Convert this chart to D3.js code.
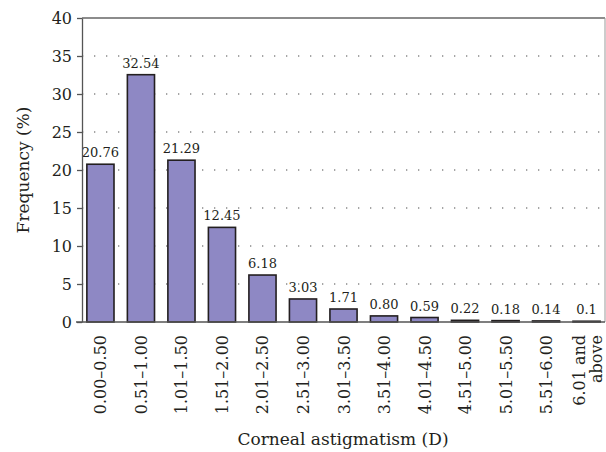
<!DOCTYPE html>
<html>
<head>
<meta charset="utf-8">
<script src="https://cdn.jsdelivr.net/npm/d3@7"></script>
<style>
  body { margin: 0; background: #fff; }
  svg { display: block; font-family: "DejaVu Serif", "Liberation Serif", serif; }
</style>
</head>
<body>
<figure id="bar" style="margin:0"></figure>
<script>
const categories = ['0.00\u20130.50', '0.51\u20131.00', '1.01\u20131.50', '1.51\u20132.00', '2.01\u20132.50',
  '2.51\u20133.00', '3.01\u20133.50', '3.51\u20134.00', '4.01\u20134.50', '4.51\u20135.00',
  '5.01\u20135.50', '5.51\u20136.00', '6.01 and above'];
const values = [20.76, 32.54, 21.29, 12.45, 6.18, 3.03, 1.71, 0.80, 0.59, 0.22, 0.18, 0.14, 0.1];
const valueLabels = ['20.76', '32.54', '21.29', '12.45', '6.18', '3.03', '1.71', '0.80', '0.59', '0.22', '0.18', '0.14', '0.1'];
const yTicks = [0, 5, 10, 15, 20, 25, 30, 35, 40];

const W = 606, H = 452;
const margin = { top: 18, right: 1, bottom: 130, left: 82 };
const width = W - margin.left - margin.right;
const height = H - margin.top - margin.bottom;

const svg = d3.select('figure#bar')
  .append('svg')
  .attr('width', W)
  .attr('height', H);

const g = svg.append('g')
  .attr('transform', 'translate(' + margin.left + ',' + margin.top + ')');

const x = d3.scaleBand()
  .range([0, width])
  .domain(categories)
  .paddingInner(0.33)
  .paddingOuter(0.12);

const y = d3.scaleLinear()
  .domain([0, 40])
  .range([height, 0]);

// dotted grid
g.append('g')
  .selectAll('line')
  .data(yTicks.filter(t => t > 0 && t < 40))
  .enter()
  .append('line')
  .attr('x1', 0)
  .attr('x2', width)
  .attr('y1', d => y(d))
  .attr('y2', d => y(d))
  .attr('stroke', '#888')
  .attr('stroke-width', 1.3)
  .attr('stroke-dasharray', '1.3,10.7');

// frame top / right
g.append('line')
  .attr('x1', 0).attr('x2', width)
  .attr('y1', y(40)).attr('y2', y(40))
  .attr('stroke', '#666').attr('stroke-width', 1.3);
g.append('line')
  .attr('x1', width).attr('x2', width)
  .attr('y1', y(40)).attr('y2', y(0))
  .attr('stroke', '#999').attr('stroke-width', 1);

// bars
g.selectAll('rect.bar')
  .data(values)
  .enter()
  .append('rect')
  .attr('class', 'bar')
  .attr('x', (d, i) => x(categories[i]))
  .attr('y', d => y(d))
  .attr('width', x.bandwidth())
  .attr('height', d => height - y(d))
  .attr('fill', '#8e88c4')
  .attr('stroke', '#231f20')
  .attr('stroke-width', 1.6);

// value labels
g.selectAll('text.val')
  .data(values)
  .enter()
  .append('text')
  .attr('class', 'val')
  .attr('x', (d, i) => x(categories[i]) + x.bandwidth() / 2)
  .attr('y', d => y(d) - 7)
  .attr('text-anchor', 'middle')
  .attr('font-size', 13)
  .attr('fill', '#231f20')
  .text((d, i) => valueLabels[i]);

// y axis
const yAxis = g.append('g')
  .call(d3.axisLeft(y).tickValues(yTicks).tickSize(5).tickSizeOuter(0));
yAxis.select('.domain').attr('stroke', '#555').attr('stroke-width', 1.3);
yAxis.selectAll('.tick line').attr('stroke', '#555').attr('stroke-width', 1.3);
yAxis.selectAll('.tick text')
  .attr('font-family', '"DejaVu Serif", serif')
  .attr('font-size', 16)
  .attr('fill', '#231f20')
  .attr('x', -10);

// x axis
const xAxis = g.append('g')
  .attr('transform', 'translate(0,' + height + ')')
  .call(d3.axisBottom(x).tickSize(0).tickSizeOuter(0));
xAxis.select('.domain').attr('d', 'M-6,0H' + width).attr('stroke', '#555').attr('stroke-width', 1.3);
xAxis.selectAll('.tick text').remove();

xAxis.selectAll('.tick').each(function (d) {
  const t = d3.select(this).append('text')
    .attr('transform', 'rotate(-90)')
    .attr('text-anchor', 'end')
    .attr('font-family', '"DejaVu Serif", serif')
    .attr('font-size', 16)
    .attr('fill', '#231f20');
  if (d === '6.01 and above') {
    t.append('tspan').attr('x', -13).attr('y', -2).text('6.01 and');
    t.append('tspan').attr('x', -13).attr('y', 15).text('above');
  } else {
    t.attr('x', -13).attr('y', 6).text(d);
  }
});

// axis titles
svg.append('text')
  .attr('x', 343)
  .attr('y', 445)
  .attr('text-anchor', 'middle')
  .attr('font-size', 17)
  .attr('fill', '#231f20')
  .text('Corneal astigmatism (D)');

svg.append('text')
  .attr('transform', 'translate(29,' + (margin.top + height / 2) + ') rotate(-90)')
  .attr('text-anchor', 'middle')
  .attr('font-size', 17)
  .attr('fill', '#231f20')
  .text('Frequency (%)');
</script>
</body>
</html>
